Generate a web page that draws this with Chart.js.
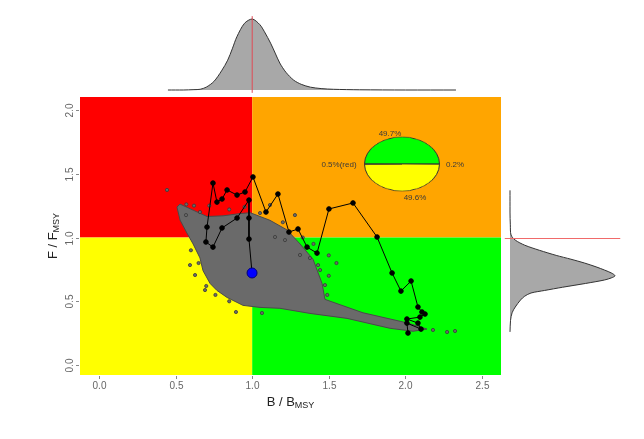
<!DOCTYPE html>
<html>
<head>
<meta charset="utf-8">
<script src="https://cdn.jsdelivr.net/npm/chart.js@4.4.0/dist/chart.umd.min.js"></script>
<style>
  html, body { margin: 0; padding: 0; background: #fff; }
  #wrap { position: relative; width: 644px; height: 439px; overflow: hidden; }
  #wrap canvas { position: absolute; }
  .lbl { position: absolute; font: 8px "Liberation Sans", Arial, sans-serif; color: #3a3a3a; white-space: nowrap; transform: translate(-50%, -50%); }
</style>
</head>
<body>
<div id="wrap">
  <canvas id="main" width="644" height="439" style="left:0;top:0"></canvas>
  <canvas id="topDens" width="644" height="100" style="left:0;top:0"></canvas>
  <canvas id="rightDens" width="144" height="439" style="left:500px;top:0"></canvas>
  <div style="position:absolute;left:363px;top:125px;width:78px;height:78px;transform:scaleY(0.72);transform-origin:50% 50%">
    <canvas id="pie" width="78" height="78" style="left:0;top:0"></canvas>
  </div>
  <div class="lbl" style="left:390px;top:133px">49.7%</div>
  <div class="lbl" style="left:339px;top:164px">0.5%(red)</div>
  <div class="lbl" style="left:455px;top:164px">0.2%</div>
  <div class="lbl" style="left:415px;top:197px">49.6%</div>
</div>
<script>
// ---- axes ----
const xTicks = [0, 0.5, 1, 1.5, 2, 2.5];
const yTicks = [0, 0.5, 1, 1.5, 2];
const xRange = [-0.124, 2.624];
const yRange = [-0.078, 2.102];

// ---- posterior cloud outline (B, F) ----
const cloudTopB = [0.509, 0.529, 0.614, 0.705, 0.809, 0.901, 0.986, 1.116, 1.227, 1.312, 1.397, 1.456, 1.475, 1.723, 2.010, 2.141];
const cloudTopF = [1.239, 1.262, 1.215, 1.165, 1.170, 1.185, 1.195, 1.135, 1.060, 0.950, 0.830, 0.640, 0.515, 0.410, 0.331, 0.282];
const cloudLowB = [0.509, 0.529, 0.574, 0.614, 0.659, 0.679, 0.725, 0.770, 0.836, 0.940, 1.051, 1.181, 1.377, 1.619, 1.900, 2.050, 2.141];
const cloudLowF = [1.239, 1.137, 1.035, 0.950, 0.840, 0.740, 0.640, 0.585, 0.530, 0.468, 0.452, 0.445, 0.405, 0.366, 0.288, 0.265, 0.282];

// loose draws outside the dense cloud
const dotsB = [0.444, 2.180, 2.272, 2.324, 0.594, 0.627, 0.692, 0.894, 1.064, 1.443, 1.475, 1.430, 1.312, 1.377, 1.214, 1.149, 1.279, 1.116, 1.051, 0.568, 0.659,
               0.72, 0.85, 0.95, 0.62, 0.57, 1.20, 1.33, 1.40, 1.50, 1.55, 1.50, 1.49, 0.60, 0.65, 0.70, 0.76, 0.85];
const dotsF = [1.373, 0.275, 0.259, 0.267, 0.784, 0.706, 0.588, 0.416, 0.408, 0.745, 0.627, 0.784, 0.863, 0.839, 0.980, 1.004, 1.176, 1.255, 1.192, 1.176, 1.200,
               1.25, 1.22, 1.24, 1.25, 1.26, 1.12, 1.00, 0.95, 0.86, 0.80, 0.70, 0.55, 0.90, 0.80, 0.62, 0.55, 0.50];

// ---- stock trajectory ----
const trajB = [2.017, 2.010, 2.102, 2.082, 2.010, 2.095, 2.128, 2.108, 2.082, 2.037, 1.971, 1.913, 1.815, 1.658, 1.501, 1.423, 1.358, 1.299, 1.240, 1.168, 1.090, 1.005, 0.953, 0.901, 0.836, 0.803, 0.770, 0.744, 0.705, 0.698, 0.744, 0.803, 0.901, 0.979, 0.979, 0.979, 0.999];
const trajF = [0.251, 0.329, 0.282, 0.329, 0.361, 0.376, 0.400, 0.416, 0.455, 0.659, 0.580, 0.722, 1.004, 1.271, 1.224, 0.878, 0.925, 1.067, 1.043, 1.341, 1.200, 1.475, 1.357, 1.333, 1.373, 1.302, 1.278, 1.427, 1.082, 0.965, 0.925, 1.075, 1.153, 1.294, 1.153, 0.988, 0.722];
const finalB = [0.999];
const finalF = [0.722];

// ---- marginal densities (relative height) ----
const densB  = [0.45, 0.55, 0.62, 0.66, 0.70, 0.75, 0.80, 0.84, 0.87, 0.90, 0.95, 1.00, 1.05, 1.08, 1.12, 1.15, 1.18, 1.22, 1.27, 1.32, 1.38, 1.45, 1.53, 1.70, 2.00, 2.33];
const densBh = [0, 0, 0.005, 0.01, 0.04, 0.12, 0.27, 0.42, 0.58, 0.75, 0.94, 1.0, 0.92, 0.82, 0.66, 0.52, 0.38, 0.25, 0.14, 0.08, 0.04, 0.02, 0.01, 0.003, 0, 0];
const densF  = [1.37, 1.20, 1.10, 1.02, 0.98, 0.94, 0.90, 0.86, 0.83, 0.80, 0.77, 0.745, 0.72, 0.70, 0.685, 0.667, 0.64, 0.61, 0.585, 0.565, 0.54, 0.51, 0.455, 0.41, 0.35, 0.26];
const densFh = [0, 0, 0.003, 0.01, 0.05, 0.14, 0.28, 0.44, 0.58, 0.71, 0.82, 0.90, 0.97, 1.0, 0.97, 0.90, 0.72, 0.50, 0.33, 0.20, 0.14, 0.10, 0.05, 0.02, 0.005, 0];

// ---- pie of quadrant shares ----
const pieLabels = ['green', 'orange', 'yellow', 'red'];
const pieValues = [49.7, 0.2, 49.6, 0.5];
const pieColors = ['#00ff00', '#ffa500', '#ffff00', '#ff0000'];

const pts = (xs, ys) => xs.map((v, i) => ({ x: v, y: ys[i] }));
const FONT = '"Liberation Sans", Arial, sans-serif';

// coloured Kobe quadrants behind everything
const quadrants = {
  id: 'quadrants',
  beforeDatasetsDraw(chart) {
    const { ctx, chartArea: a, scales: { x, y } } = chart;
    const x1 = x.getPixelForValue(1), y1 = y.getPixelForValue(1);
    ctx.save();
    ctx.fillStyle = '#ff0000'; ctx.fillRect(a.left, a.top, x1 - a.left, y1 - a.top);
    ctx.fillStyle = '#ffa500'; ctx.fillRect(x1, a.top, a.right - x1, y1 - a.top);
    ctx.fillStyle = '#ffff00'; ctx.fillRect(a.left, y1, x1 - a.left, a.bottom - y1);
    ctx.fillStyle = '#00ff00'; ctx.fillRect(x1, y1, a.right - x1, a.bottom - y1);
    ctx.restore();
  }
};

// R-style ticks, rotated y labels and subscripted titles
const rAxes = {
  id: 'rAxes',
  afterDraw(chart) {
    const { ctx, chartArea: a, scales: { x, y } } = chart;
    ctx.save();
    ctx.strokeStyle = '#888';
    ctx.lineWidth = 1;
    ctx.fillStyle = '#666';
    ctx.font = '10px ' + FONT;
    ctx.textAlign = 'center';
    ctx.textBaseline = 'middle';
    xTicks.forEach(v => {
      const px = Math.round(x.getPixelForValue(v)) + 0.5;
      ctx.beginPath(); ctx.moveTo(px, a.bottom + 1); ctx.lineTo(px, a.bottom + 4); ctx.stroke();
      ctx.fillText(v.toFixed(1), px, a.bottom + 11);
    });
    yTicks.forEach(v => {
      const py = Math.round(y.getPixelForValue(v)) + 0.5;
      ctx.beginPath(); ctx.moveTo(a.left - 4, py); ctx.lineTo(a.left - 1, py); ctx.stroke();
      ctx.save();
      ctx.translate(a.left - 10, py);
      ctx.rotate(-Math.PI / 2);
      ctx.fillText(v.toFixed(1), 0, 0);
      ctx.restore();
    });
    ctx.fillStyle = '#222';
    const title = (main, sub) => {
      ctx.font = '13px ' + FONT;
      const w1 = ctx.measureText(main).width;
      ctx.font = '9px ' + FONT;
      const w2 = ctx.measureText(sub).width;
      ctx.textAlign = 'left';
      ctx.font = '13px ' + FONT;
      ctx.fillText(main, -(w1 + w2) / 2, 0);
      ctx.font = '9px ' + FONT;
      ctx.fillText(sub, -(w1 + w2) / 2 + w1, 4);
    };
    ctx.save(); ctx.translate((a.left + a.right) / 2, a.bottom + 27); title('B / B', 'MSY'); ctx.restore();
    ctx.save(); ctx.translate(a.left - 27, (a.top + a.bottom) / 2); ctx.rotate(-Math.PI / 2); title('F / F', 'MSY'); ctx.restore();
    ctx.restore();
  }
};

// red reference line at F/Fmsy = 1 across the right marginal
const refLineF = {
  id: 'refLineF',
  afterDatasetsDraw(chart) {
    const { ctx, scales: { x, y } } = chart;
    const py = Math.round(y.getPixelForValue(1)) + 0.5;
    ctx.save();
    ctx.strokeStyle = '#f06a6a';
    ctx.lineWidth = 1;
    ctx.beginPath();
    ctx.moveTo(x.getPixelForValue(-0.05), py);
    ctx.lineTo(x.getPixelForValue(1.05), py);
    ctx.stroke();
    ctx.restore();
  }
};

const base = {
  responsive: false,
  animation: false,
  events: [],
  plugins: { legend: { display: false }, tooltip: { enabled: false } }
};

new Chart(document.getElementById('main'), {
  type: 'scatter',
  data: {
    datasets: [
      { data: pts(finalB, finalF), pointRadius: 5, backgroundColor: '#0000ff', borderColor: '#00007a', borderWidth: 1, order: 0 },
      { data: pts(trajB, trajF), showLine: true, borderColor: '#000', borderWidth: 1, pointRadius: 2.3, backgroundColor: '#000', order: 1 },
      { data: pts(dotsB, dotsF), pointRadius: 1.6, backgroundColor: '#6a6a6a', borderColor: '#3a3a3a', borderWidth: 0.8, order: 2 },
      { data: pts(cloudTopB, cloudTopF), showLine: true, borderColor: '#4a4a4a', borderWidth: 1, pointRadius: 0, order: 3 },
      { data: pts(cloudLowB, cloudLowF), showLine: true, borderColor: '#4a4a4a', borderWidth: 1, pointRadius: 0,
        fill: '-1', backgroundColor: '#6a6a6a', order: 3 }
    ]
  },
  options: {
    ...base,
    layout: { padding: { left: 80, right: 143, top: 97, bottom: 64 } },
    scales: {
      x: { type: 'linear', min: xRange[0], max: xRange[1], display: false },
      y: { type: 'linear', min: yRange[0], max: yRange[1], display: false }
    }
  },
  plugins: [quadrants, rAxes]
});

// marginal density of B/Bmsy on top
new Chart(document.getElementById('topDens'), {
  type: 'scatter',
  data: {
    datasets: [
      { data: [{ x: 1, y: -0.04 }, { x: 1, y: 1.04 }], showLine: true, borderColor: '#e04a55', borderWidth: 1, pointRadius: 0, clip: false },
      { data: pts(densB, densBh), showLine: true, tension: 0.3, borderColor: '#333', borderWidth: 1, pointRadius: 0,
        fill: 'origin', backgroundColor: '#a8a8a8', clip: false }
    ]
  },
  options: {
    ...base,
    layout: { padding: { left: 80, right: 143, top: 19, bottom: 10 } },
    scales: {
      x: { type: 'linear', min: xRange[0], max: xRange[1], display: false },
      y: { type: 'linear', min: 0, max: 1, display: false }
    }
  }
});

// marginal density of F/Fmsy on the right
new Chart(document.getElementById('rightDens'), {
  type: 'line',
  data: {
    datasets: [
      { data: pts(densFh, densF), tension: 0.3, borderColor: '#333', borderWidth: 1, pointRadius: 0,
        fill: 'origin', backgroundColor: '#a8a8a8', clip: false }
    ]
  },
  options: {
    ...base,
    indexAxis: 'y',
    layout: { padding: { left: 10, right: 29, top: 97, bottom: 64 } },
    scales: {
      x: { type: 'linear', min: 0, max: 1, display: false },
      y: { type: 'linear', min: yRange[0], max: yRange[1], display: false }
    }
  },
  plugins: [refLineF]
});

new Chart(document.getElementById('pie'), {
  type: 'pie',
  data: {
    labels: pieLabels,
    datasets: [{ data: pieValues, backgroundColor: pieColors, borderColor: '#333', borderWidth: 1 }]
  },
  options: {
    ...base,
    rotation: -89.1,
    layout: { padding: 1 }
  }
});
</script>
</body>
</html>
